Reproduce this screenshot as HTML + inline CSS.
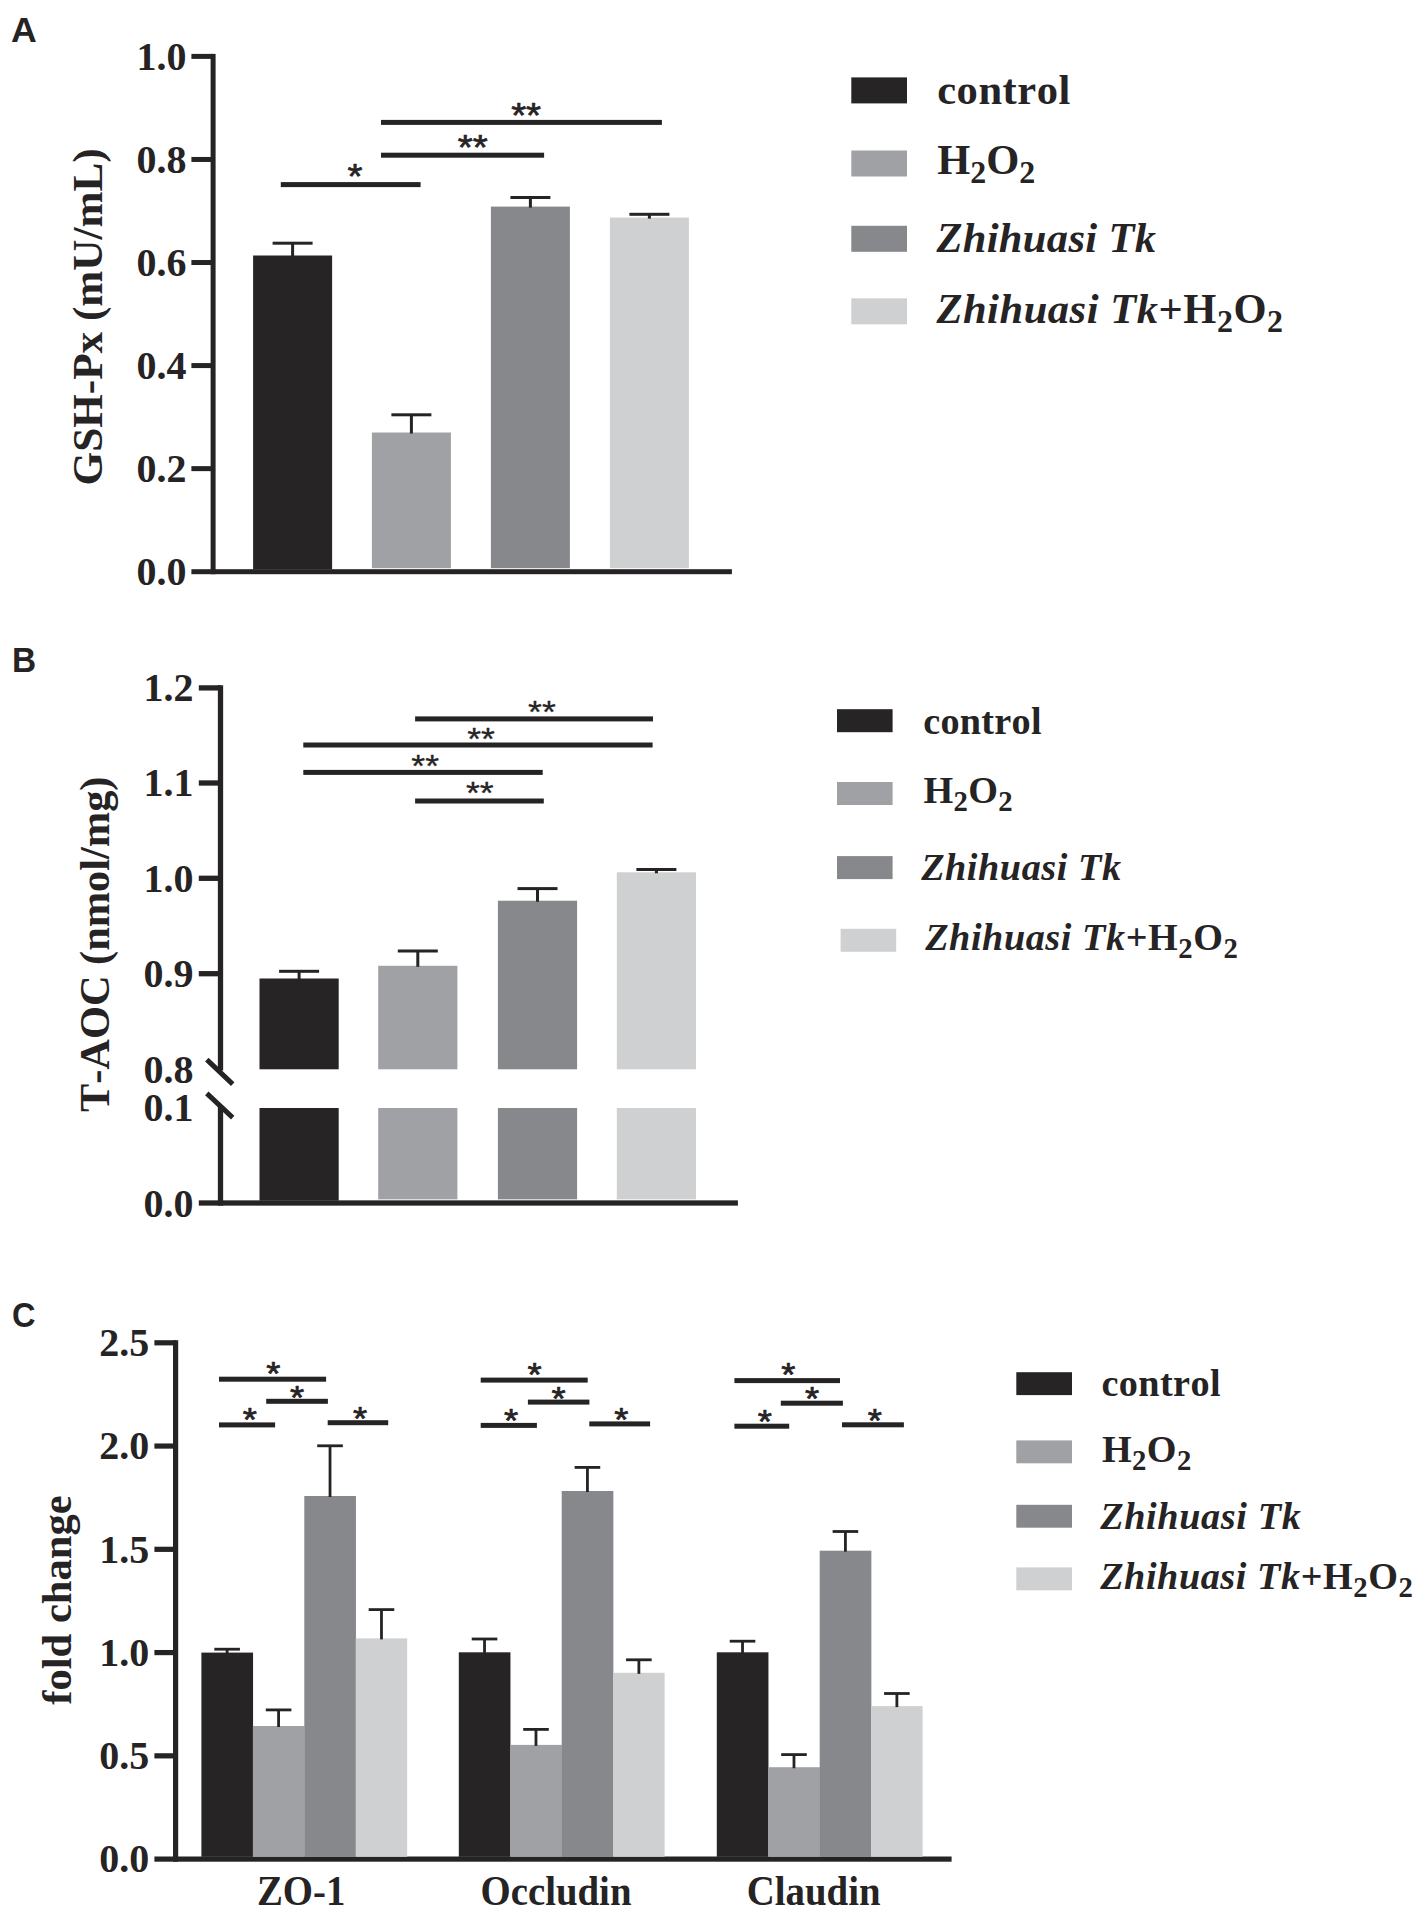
<!DOCTYPE html>
<html lang="en">
<head>
<meta charset="utf-8">
<title>Figure: GSH-Px, T-AOC and tight junction protein expression</title>
<style>
html, body { margin: 0; padding: 0; background: #ffffff; }
body { width: 1421px; height: 1912px; overflow: hidden; }
svg { display: block; }
text { fill: #262324; font-kerning: none; font-variant-ligatures: none; }
.sb { font-family: "Liberation Serif", serif; font-weight: bold; }
.bi { font-family: "Liberation Serif", serif; font-weight: bold; font-style: italic; }
.sn { font-family: "Liberation Sans", sans-serif; font-weight: normal; stroke: #262324; stroke-width: 0.75px; stroke-linejoin: round; }
.pl { font-family: "Liberation Sans", sans-serif; font-weight: bold; }
</style>
</head>
<body>
<svg width="1421" height="1912" viewBox="0 0 1421 1912">
<rect x="0" y="0" width="1421" height="1912" fill="#ffffff"/>
<!-- Panel A -->
<text transform="translate(11.10 42.00) scale(1.02 1)" font-size="35" text-anchor="start" class="pl">A</text>
<rect x="210.60" y="53.90" width="5.00" height="520.30" fill="#262324"/>
<rect x="191.40" y="569.20" width="540.50" height="5.00" fill="#262324"/>
<text transform="translate(186.50 584.90) scale(1 1.025)" font-size="40" text-anchor="end" class="sb">0.0</text>
<rect x="191.40" y="466.14" width="21.70" height="5.00" fill="#262324"/>
<text transform="translate(186.50 481.84) scale(1 1.025)" font-size="40" text-anchor="end" class="sb">0.2</text>
<rect x="191.40" y="363.08" width="21.70" height="5.00" fill="#262324"/>
<text transform="translate(186.50 378.78) scale(1 1.025)" font-size="40" text-anchor="end" class="sb">0.4</text>
<rect x="191.40" y="260.02" width="21.70" height="5.00" fill="#262324"/>
<text transform="translate(186.50 275.72) scale(1 1.025)" font-size="40" text-anchor="end" class="sb">0.6</text>
<rect x="191.40" y="156.96" width="21.70" height="5.00" fill="#262324"/>
<text transform="translate(186.50 172.66) scale(1 1.025)" font-size="40" text-anchor="end" class="sb">0.8</text>
<rect x="191.40" y="53.90" width="21.70" height="5.00" fill="#262324"/>
<text transform="translate(186.50 69.60) scale(1 1.025)" font-size="40" text-anchor="end" class="sb">1.0</text>
<rect x="253.10" y="255.50" width="79.00" height="314.00" fill="#272425"/>
<rect x="291.10" y="243.20" width="3.00" height="13.30" fill="#262324"/>
<rect x="272.60" y="241.70" width="40.00" height="3.00" fill="#262324"/>
<rect x="371.90" y="432.50" width="79.00" height="135.70" fill="#a0a1a4"/>
<rect x="409.90" y="414.80" width="3.00" height="18.70" fill="#262324"/>
<rect x="391.40" y="413.30" width="40.00" height="3.00" fill="#262324"/>
<rect x="490.90" y="206.60" width="79.00" height="361.60" fill="#87888c"/>
<rect x="528.90" y="197.50" width="3.00" height="10.10" fill="#262324"/>
<rect x="510.40" y="196.00" width="40.00" height="3.00" fill="#262324"/>
<rect x="609.90" y="217.60" width="79.00" height="350.60" fill="#cfd0d2"/>
<rect x="647.90" y="214.30" width="3.00" height="4.30" fill="#262324"/>
<rect x="629.40" y="212.80" width="40.00" height="3.00" fill="#262324"/>
<rect x="280.80" y="182.10" width="139.80" height="5.00" fill="#262324"/>
<rect x="381.00" y="152.70" width="163.10" height="5.00" fill="#262324"/>
<rect x="381.00" y="119.90" width="280.90" height="5.00" fill="#262324"/>
<text transform="translate(354.90 187.61) scale(1 0.91)" font-size="38.5" text-anchor="middle" class="sn">*</text>
<text transform="translate(472.80 159.21) scale(1 0.91)" font-size="38.5" text-anchor="middle" class="sn">**</text>
<text transform="translate(526.10 127.11) scale(1 0.91)" font-size="38.5" text-anchor="middle" class="sn">**</text>
<text transform="translate(101.90 316.90) rotate(-90)" font-size="43.2" text-anchor="middle" class="sb">GSH-Px (mU/mL)</text>
<rect x="851.30" y="77.40" width="55.70" height="26.00" fill="#272425"/>
<text x="937.20" y="104.00" font-size="42.5" text-anchor="start" class="sb" letter-spacing="0.55">control</text>
<rect x="851.30" y="150.50" width="55.70" height="26.00" fill="#a0a1a4"/>
<text x="937.20" y="173.70" font-size="42.5" text-anchor="start" class="sb">H<tspan font-size="31.9" dy="8.9">2</tspan><tspan dy="-8.9">O</tspan><tspan font-size="31.9" dy="8.9">2</tspan></text>
<rect x="851.30" y="225.80" width="55.70" height="26.00" fill="#87888c"/>
<text x="936.40" y="252.10" font-size="42.5" text-anchor="start" class="sb" letter-spacing="0.35"><tspan class="bi">Zhihuasi Tk</tspan></text>
<rect x="851.30" y="298.30" width="55.70" height="26.00" fill="#cfd0d2"/>
<text x="936.40" y="323.40" font-size="42.5" text-anchor="start" class="sb" letter-spacing="0.55"><tspan class="bi">Zhihuasi Tk</tspan>+H<tspan font-size="31.9" dy="8.9">2</tspan><tspan dy="-8.9">O</tspan><tspan font-size="31.9" dy="8.9">2</tspan></text>
<!-- Panel B -->
<text transform="translate(11.90 672.00) scale(0.955 1)" font-size="35" text-anchor="start" class="pl">B</text>
<rect x="217.85" y="685.25" width="5.30" height="385.25" fill="#262324"/>
<rect x="217.85" y="1106.00" width="5.30" height="99.65" fill="#262324"/>
<rect x="198.80" y="1200.35" width="539.10" height="5.30" fill="#262324"/>
<rect x="198.80" y="685.25" width="21.70" height="5.30" fill="#262324"/>
<text transform="translate(193.50 701.10) scale(1 1.025)" font-size="40" text-anchor="end" class="sb">1.2</text>
<rect x="198.80" y="780.35" width="21.70" height="5.30" fill="#262324"/>
<text transform="translate(193.50 796.20) scale(1 1.025)" font-size="40" text-anchor="end" class="sb">1.1</text>
<rect x="198.80" y="875.65" width="21.70" height="5.30" fill="#262324"/>
<text transform="translate(193.50 891.50) scale(1 1.025)" font-size="40" text-anchor="end" class="sb">1.0</text>
<rect x="198.80" y="971.05" width="21.70" height="5.30" fill="#262324"/>
<text transform="translate(193.50 986.90) scale(1 1.025)" font-size="40" text-anchor="end" class="sb">0.9</text>
<text transform="translate(193.50 1082.70) scale(1 1.025)" font-size="40" text-anchor="end" class="sb">0.8</text>
<text transform="translate(193.50 1121.10) scale(1 1.025)" font-size="40" text-anchor="end" class="sb">0.1</text>
<text transform="translate(193.50 1217.20) scale(1 1.025)" font-size="40" text-anchor="end" class="sb">0.0</text>
<line x1="206.8" y1="1059.6" x2="232.7" y2="1084.1" stroke="#262324" stroke-width="5.0"/>
<line x1="206.8" y1="1093.4" x2="232.7" y2="1117.6" stroke="#262324" stroke-width="5.0"/>
<rect x="259.50" y="978.50" width="79.20" height="90.80" fill="#272425"/>
<rect x="259.50" y="1108.00" width="79.20" height="92.65" fill="#272425"/>
<rect x="297.60" y="971.30" width="3.00" height="8.20" fill="#262324"/>
<rect x="279.10" y="969.80" width="40.00" height="3.00" fill="#262324"/>
<rect x="378.20" y="965.80" width="79.20" height="103.50" fill="#a0a1a4"/>
<rect x="378.20" y="1108.00" width="79.20" height="91.35" fill="#a0a1a4"/>
<rect x="416.30" y="951.00" width="3.00" height="15.80" fill="#262324"/>
<rect x="397.80" y="949.50" width="40.00" height="3.00" fill="#262324"/>
<rect x="497.90" y="900.70" width="79.20" height="168.60" fill="#87888c"/>
<rect x="497.90" y="1108.00" width="79.20" height="91.35" fill="#87888c"/>
<rect x="536.00" y="888.60" width="3.00" height="13.10" fill="#262324"/>
<rect x="517.50" y="887.10" width="40.00" height="3.00" fill="#262324"/>
<rect x="616.80" y="872.30" width="79.20" height="197.00" fill="#cfd0d2"/>
<rect x="616.80" y="1108.00" width="79.20" height="91.35" fill="#cfd0d2"/>
<rect x="654.90" y="869.50" width="3.00" height="3.80" fill="#262324"/>
<rect x="636.40" y="868.00" width="40.00" height="3.00" fill="#262324"/>
<rect x="415.10" y="716.40" width="237.90" height="5.00" fill="#262324"/>
<rect x="303.30" y="742.50" width="349.30" height="5.00" fill="#262324"/>
<rect x="303.30" y="769.90" width="239.40" height="5.00" fill="#262324"/>
<rect x="415.10" y="798.50" width="128.70" height="5.00" fill="#262324"/>
<text transform="translate(541.90 723.38) scale(1 0.89)" font-size="35.6" text-anchor="middle" class="sn" style="stroke-width:0.35px">**</text>
<text transform="translate(481.00 749.98) scale(1 0.89)" font-size="35.6" text-anchor="middle" class="sn" style="stroke-width:0.35px">**</text>
<text transform="translate(425.20 776.68) scale(1 0.89)" font-size="35.6" text-anchor="middle" class="sn" style="stroke-width:0.35px">**</text>
<text transform="translate(479.80 803.58) scale(1 0.89)" font-size="35.6" text-anchor="middle" class="sn" style="stroke-width:0.35px">**</text>
<text transform="translate(108.80 944.30) rotate(-90)" font-size="42.4" text-anchor="middle" class="sb">T-AOC (nmol/mg)</text>
<rect x="837.00" y="709.20" width="55.60" height="23.00" fill="#272425"/>
<text x="923.20" y="733.70" font-size="38.2" text-anchor="start" class="sb" letter-spacing="0.28">control</text>
<rect x="837.00" y="782.00" width="55.60" height="23.00" fill="#a0a1a4"/>
<text x="923.50" y="803.30" font-size="38.2" text-anchor="start" class="sb" letter-spacing="0.3">H<tspan font-size="28.7" dy="8.0">2</tspan><tspan dy="-8.0">O</tspan><tspan font-size="28.7" dy="8.0">2</tspan></text>
<rect x="837.00" y="856.10" width="55.60" height="23.00" fill="#87888c"/>
<text x="921.20" y="879.90" font-size="38.2" text-anchor="start" class="sb" letter-spacing="0.56"><tspan class="bi">Zhihuasi Tk</tspan></text>
<rect x="840.60" y="928.80" width="55.60" height="23.00" fill="#cfd0d2"/>
<text x="925.20" y="949.80" font-size="38.2" text-anchor="start" class="sb" letter-spacing="0.57"><tspan class="bi">Zhihuasi Tk</tspan>+H<tspan font-size="28.7" dy="8.0">2</tspan><tspan dy="-8.0">O</tspan><tspan font-size="28.7" dy="8.0">2</tspan></text>
<!-- Panel C -->
<text transform="translate(11.90 1327.10) scale(0.93 1)" font-size="35" text-anchor="start" class="pl">C</text>
<rect x="173.00" y="1340.20" width="5.20" height="521.50" fill="#262324"/>
<rect x="154.40" y="1856.50" width="797.20" height="5.20" fill="#262324"/>
<text transform="translate(149.30 1872.30) scale(1 1.025)" font-size="40" text-anchor="end" class="sb">0.0</text>
<rect x="154.40" y="1753.24" width="21.20" height="5.20" fill="#262324"/>
<text transform="translate(149.30 1769.04) scale(1 1.025)" font-size="40" text-anchor="end" class="sb">0.5</text>
<rect x="154.40" y="1649.98" width="21.20" height="5.20" fill="#262324"/>
<text transform="translate(149.30 1665.78) scale(1 1.025)" font-size="40" text-anchor="end" class="sb">1.0</text>
<rect x="154.40" y="1546.72" width="21.20" height="5.20" fill="#262324"/>
<text transform="translate(149.30 1562.52) scale(1 1.025)" font-size="40" text-anchor="end" class="sb">1.5</text>
<rect x="154.40" y="1443.46" width="21.20" height="5.20" fill="#262324"/>
<text transform="translate(149.30 1459.26) scale(1 1.025)" font-size="40" text-anchor="end" class="sb">2.0</text>
<rect x="154.40" y="1340.20" width="21.20" height="5.20" fill="#262324"/>
<text transform="translate(149.30 1356.00) scale(1 1.025)" font-size="40" text-anchor="end" class="sb">2.5</text>
<rect x="201.40" y="1652.60" width="51.65" height="204.20" fill="#272425"/>
<rect x="252.85" y="1726.00" width="51.65" height="130.80" fill="#a0a1a4"/>
<rect x="304.30" y="1496.00" width="51.65" height="360.80" fill="#87888c"/>
<rect x="355.75" y="1638.40" width="51.45" height="218.40" fill="#cfd0d2"/>
<rect x="225.72" y="1649.20" width="2.80" height="4.40" fill="#262324"/>
<rect x="214.32" y="1647.80" width="25.60" height="2.80" fill="#262324"/>
<rect x="277.18" y="1709.90" width="2.80" height="17.10" fill="#262324"/>
<rect x="265.78" y="1708.50" width="25.60" height="2.80" fill="#262324"/>
<rect x="328.63" y="1445.80" width="2.80" height="51.20" fill="#262324"/>
<rect x="317.23" y="1444.40" width="25.60" height="2.80" fill="#262324"/>
<rect x="380.08" y="1609.60" width="2.80" height="29.80" fill="#262324"/>
<rect x="368.68" y="1608.20" width="25.60" height="2.80" fill="#262324"/>
<text transform="translate(257.00 1904.80) scale(1 1.06)" font-size="38.8" text-anchor="start" class="sb">ZO-1</text>
<rect x="458.80" y="1652.30" width="51.65" height="204.50" fill="#272425"/>
<rect x="510.25" y="1744.90" width="51.65" height="111.90" fill="#a0a1a4"/>
<rect x="561.70" y="1491.00" width="51.65" height="365.80" fill="#87888c"/>
<rect x="613.15" y="1672.80" width="51.45" height="184.00" fill="#cfd0d2"/>
<rect x="483.13" y="1639.00" width="2.80" height="14.30" fill="#262324"/>
<rect x="471.73" y="1637.60" width="25.60" height="2.80" fill="#262324"/>
<rect x="534.58" y="1729.40" width="2.80" height="16.50" fill="#262324"/>
<rect x="523.18" y="1728.00" width="25.60" height="2.80" fill="#262324"/>
<rect x="586.03" y="1467.40" width="2.80" height="24.60" fill="#262324"/>
<rect x="574.63" y="1466.00" width="25.60" height="2.80" fill="#262324"/>
<rect x="637.48" y="1659.80" width="2.80" height="14.00" fill="#262324"/>
<rect x="626.08" y="1658.40" width="25.60" height="2.80" fill="#262324"/>
<text transform="translate(480.60 1904.80) scale(1 1.06)" font-size="38.8" text-anchor="start" class="sb">Occludin</text>
<rect x="716.80" y="1652.30" width="51.65" height="204.50" fill="#272425"/>
<rect x="768.25" y="1767.20" width="51.65" height="89.60" fill="#a0a1a4"/>
<rect x="819.70" y="1550.70" width="51.65" height="306.10" fill="#87888c"/>
<rect x="871.15" y="1706.10" width="51.45" height="150.70" fill="#cfd0d2"/>
<rect x="741.12" y="1641.20" width="2.80" height="12.10" fill="#262324"/>
<rect x="729.73" y="1639.80" width="25.60" height="2.80" fill="#262324"/>
<rect x="792.58" y="1754.60" width="2.80" height="13.60" fill="#262324"/>
<rect x="781.18" y="1753.20" width="25.60" height="2.80" fill="#262324"/>
<rect x="844.02" y="1531.50" width="2.80" height="20.20" fill="#262324"/>
<rect x="832.62" y="1530.10" width="25.60" height="2.80" fill="#262324"/>
<rect x="895.48" y="1693.50" width="2.80" height="13.60" fill="#262324"/>
<rect x="884.08" y="1692.10" width="25.60" height="2.80" fill="#262324"/>
<text transform="translate(746.80 1904.80) scale(1 1.06)" font-size="38.8" text-anchor="start" class="sb">Claudin</text>
<rect x="219.00" y="1376.70" width="107.10" height="5.00" fill="#262324"/>
<rect x="266.20" y="1398.80" width="61.70" height="5.00" fill="#262324"/>
<rect x="219.00" y="1422.40" width="56.10" height="5.00" fill="#262324"/>
<rect x="327.70" y="1420.20" width="60.50" height="5.00" fill="#262324"/>
<text transform="translate(273.30 1385.09) scale(1 0.92)" font-size="36.4" text-anchor="middle" class="sn">*</text>
<text transform="translate(297.10 1408.99) scale(1 0.92)" font-size="36.4" text-anchor="middle" class="sn">*</text>
<text transform="translate(249.80 1431.09) scale(1 0.92)" font-size="36.4" text-anchor="middle" class="sn">*</text>
<text transform="translate(360.10 1430.39) scale(1 0.92)" font-size="36.4" text-anchor="middle" class="sn">*</text>
<rect x="480.70" y="1377.60" width="107.00" height="5.00" fill="#262324"/>
<rect x="527.90" y="1399.60" width="61.50" height="5.00" fill="#262324"/>
<rect x="480.70" y="1422.90" width="56.20" height="5.00" fill="#262324"/>
<rect x="589.30" y="1421.40" width="60.80" height="5.00" fill="#262324"/>
<text transform="translate(534.50 1385.79) scale(1 0.92)" font-size="36.4" text-anchor="middle" class="sn">*</text>
<text transform="translate(558.50 1409.69) scale(1 0.92)" font-size="36.4" text-anchor="middle" class="sn">*</text>
<text transform="translate(511.10 1431.79) scale(1 0.92)" font-size="36.4" text-anchor="middle" class="sn">*</text>
<text transform="translate(621.40 1431.09) scale(1 0.92)" font-size="36.4" text-anchor="middle" class="sn">*</text>
<rect x="734.40" y="1378.10" width="105.60" height="5.00" fill="#262324"/>
<rect x="780.80" y="1400.70" width="62.10" height="5.00" fill="#262324"/>
<rect x="734.40" y="1423.70" width="54.80" height="5.00" fill="#262324"/>
<rect x="842.00" y="1422.30" width="61.90" height="5.00" fill="#262324"/>
<text transform="translate(788.20 1386.39) scale(1 0.92)" font-size="36.4" text-anchor="middle" class="sn">*</text>
<text transform="translate(812.00 1410.49) scale(1 0.92)" font-size="36.4" text-anchor="middle" class="sn">*</text>
<text transform="translate(764.80 1432.79) scale(1 0.92)" font-size="36.4" text-anchor="middle" class="sn">*</text>
<text transform="translate(874.90 1432.19) scale(1 0.92)" font-size="36.4" text-anchor="middle" class="sn">*</text>
<text transform="translate(71.00 1600.00) rotate(-90)" font-size="42.6" text-anchor="middle" class="sb">fold change</text>
<rect x="1016.30" y="1372.20" width="55.70" height="22.90" fill="#272425"/>
<text x="1101.50" y="1395.90" font-size="38.2" text-anchor="start" class="sb" letter-spacing="0.4">control</text>
<rect x="1016.30" y="1440.40" width="55.70" height="22.90" fill="#a0a1a4"/>
<text x="1102.00" y="1461.70" font-size="38.2" text-anchor="start" class="sb" letter-spacing="0.4">H<tspan font-size="28.7" dy="8.0">2</tspan><tspan dy="-8.0">O</tspan><tspan font-size="28.7" dy="8.0">2</tspan></text>
<rect x="1016.30" y="1504.80" width="55.70" height="22.90" fill="#87888c"/>
<text x="1100.20" y="1528.60" font-size="38.2" text-anchor="start" class="sb" letter-spacing="0.65"><tspan class="bi">Zhihuasi Tk</tspan></text>
<rect x="1016.30" y="1567.40" width="55.70" height="22.90" fill="#cfd0d2"/>
<text x="1100.20" y="1588.70" font-size="38.2" text-anchor="start" class="sb" letter-spacing="0.57"><tspan class="bi">Zhihuasi Tk</tspan>+H<tspan font-size="28.7" dy="8.0">2</tspan><tspan dy="-8.0">O</tspan><tspan font-size="28.7" dy="8.0">2</tspan></text>
</svg>
</body>
</html>
